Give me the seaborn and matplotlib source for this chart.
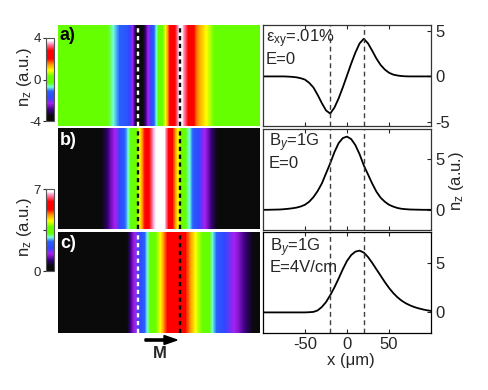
import numpy as np
import pandas as pd
import matplotlib
matplotlib.use('Agg')
import matplotlib.pyplot as plt
from matplotlib.colors import LinearSegmentedColormap
import seaborn as sns

sns.set_style('ticks')
plt.rcParams['font.family'] = ['Liberation Sans', 'DejaVu Sans']
plt.rcParams['mathtext.fontset'] = 'custom'
plt.rcParams['mathtext.rm'] = 'Liberation Sans'
plt.rcParams['mathtext.it'] = 'Liberation Sans:italic'
plt.rcParams['mathtext.default'] = 'rm'
plt.rcParams['axes.unicode_minus'] = False

# position across the sample, um
x_um = list(range(-100, 105, 5))

curve_a = [0, 0, 0, 0, 0, 0, -.02, -.05, -.1, -.2, -.35, -.7, -1.2, -2.0, -2.9, -3.7, -4.05,
           -3.4, -2.4, -1.2, .1, 1.4, 2.6, 3.6, 4.1, 3.6, 2.8, 1.95, 1.25, .75, .4, .2, .1,
           .04, .01, 0, 0, 0, 0, 0, 0]
curve_b = [0, 0, .01, .02, .03, .06, .1, .15, .22, .33, .5, .8, 1.25, 1.85, 2.6, 3.6, 4.6,
           5.7, 6.6, 7.1, 7.25, 7.0, 6.4, 5.5, 4.4, 3.5, 2.6, 1.8, 1.2, .8, .5, .32, .18,
           .1, .06, .03, .02, .01, 0, 0, 0]
curve_c = [0, 0, 0, 0, 0, 0, 0, 0, 0, 0, 0, .02, .05, .2, .55, 1.05, 1.75, 2.55, 3.45, 4.4,
           5.25, 5.85, 6.2, 6.3, 6.1, 5.65, 5.05, 4.4, 3.75, 3.1, 2.5, 1.98, 1.55, 1.2, .93,
           .72, .55, .42, .31, .22, .15]

# the colour maps read a little differently from the curves
map_a = [0, 0, 0, 0, 0, 0, 0, 0, 0, -.05, -.2, -.5, -.9, -1.2, -1.4, -2.1, -3.8, -3.5, -2.3,
         -1.2, -.2, .6, 2.0, 2.8, 4.0, 3.1, 2.4, 1.6, 1.2, .8, .4, .2, .05, 0, 0, 0, 0, 0,
         0, 0, 0]
map_b = [0, 0, 0, 0, 0, 0, 0, .03, .1, .3, .7, 1.2, 1.55, 2.15, 2.7, 3.4, 3.9, 4.9, 5.8,
         6.6, 7.0, 6.8, 5.7, 4.8, 3.9, 3.2, 2.7, 2.1, 1.7, 1.3, .8, .35, .1, .03, 0, 0,
         0, 0, 0, 0, 0]
map_c = [0, 0, 0, 0, 0, 0, 0, 0, 0, 0, 0, 0, 0, .08, .4, 1.2, 1.8, 2.3, 3.0, 3.6, 4.1, 4.9,
         5.5, 5.7, 5.6, 5.2, 4.7, 4.15, 3.8, 3.5, 2.85, 2.4, 2.05, 1.75, 1.5, 1.25, .95,
         .6, .35, .2, .1]

labels = ['a)', 'b)', 'c)']
notes = [['ε$_{xy}$=.01%', 'E=0'], ['B$_{\\mathit{y}}$=1G', 'E=0'], ['B$_{\\mathit{y}}$=1G', 'E=4V/cm']]
y_limits = [(-5.4, 5.6), (-2, 8), (-2.1, 8.2)]
y_ticks = [[-5, 0, 5], [0, 5], [0, 5]]
wall_x = [-20, 20]

W, H = 488, 390
BLACK = '#0a0a0a'
cmap = LinearSegmentedColormap.from_list('nz', [
    (0.0, BLACK), (0.06, BLACK), (0.13, '#35007a'), (0.21, '#a81ff0'), (0.28, '#3048ff'),
    (0.36, '#2a60ff'), (0.41, '#70ffe0'), (0.46, '#66ff00'), (0.54, '#66ff00'),
    (0.61, '#ffff00'), (0.68, '#ffa000'), (0.75, '#ff0000'), (0.85, '#ff0000'),
    (0.93, '#ff90c0'), (0.97, '#ffffff'), (1.0, '#ffffff')])


def box(l, t, r, b):
    return [l / W, 1 - b / H, (r - l) / W, (b - t) / H]


def put(x, y, s, **kw):
    kw.setdefault('ha', 'left')
    kw.setdefault('va', 'center')
    fig.text(x / W, 1 - y / H, s, **kw)


fig = plt.figure(figsize=(W / 100, H / 100), dpi=100)

map_boxes = [(58, 25, 260, 126), (58, 128, 260, 229), (58, 232, 260, 333)]
line_boxes = [(263, 25, 431, 126), (263, 129, 431, 230), (263, 232, 431, 333)]
map_values = [map_a, map_b, map_c]
curves = [curve_a, curve_b, curve_c]
ranges = [(-4, 4), (0, 7), (0, 7)]
left_wall = ['white', 'black', 'white']

images = []
for i in range(3):
    # colour map panel
    ax = fig.add_axes(box(*map_boxes[i]))
    vals = np.array([map_values[i], map_values[i]])
    im = ax.imshow(vals, cmap=cmap, vmin=ranges[i][0], vmax=ranges[i][1], aspect='auto',
                   extent=[-102.5, 102.5, 0, 1], interpolation='bilinear',
                   interpolation_stage='data')
    images.append(im)
    ax.set_xlim(-94, 94)
    ax.axis('off')
    ax.plot([wall_x[0]] * 2, [0, 1], color=left_wall[i], lw=1.7, ls=(0, (1.8, 1.5)))
    ax.plot([wall_x[1]] * 2, [0, 1], color='black', lw=1.7, ls=(0, (1.8, 1.5)))

    # line panel
    ax2 = fig.add_axes(box(*line_boxes[i]))
    df = pd.DataFrame({'x': x_um, 'nz': curves[i]})
    sns.lineplot(data=df, x='x', y='nz', color='black', lw=1.3, ax=ax2, errorbar=None)
    for wx in wall_x:
        ax2.axvline(wx, color='#404040', lw=1, ls=(0, (3.5, 2.5)))
    ax2.set_xlim(-100, 100)
    ax2.set_ylim(*y_limits[i])
    ax2.set_xticks([-50, 0, 50])
    ax2.set_yticks(y_ticks[i])
    ax2.set_xlabel('')
    ax2.set_ylabel('')
    ax2.yaxis.tick_right()
    ax2.tick_params(axis='x', direction='in', top=True, bottom=True, length=3, width=.8,
                    labelbottom=(i == 2), labelsize=12, pad=3)
    ax2.tick_params(axis='y', direction='in', left=False, right=True, length=3, width=.8,
                    labelsize=12, pad=3)
    for s in ax2.spines.values():
        s.set_visible(True)
        s.set_linewidth(.9)
        s.set_color('black' if i == 2 else '#333333')

    put(60, [36, 140, 244][i], labels[i], fontsize=13, fontweight='bold',
        color='black' if i == 0 else 'white')

put(266, 39, notes[0][0], fontsize=12)
put(266, 60, notes[0][1], fontsize=12)
put(269, 143, notes[1][0], fontsize=12)
put(269, 163, notes[1][1], fontsize=12)
put(270, 248, notes[2][0], fontsize=12)
put(270, 268, notes[2][1], fontsize=12)

# colour bars
for im, rect, ticks, tick_labels, label_y in [
        (images[0], (46, 38, 54, 121), [-4, 0, 4], ['-4', '0', '4'], 77),
        (images[1], (46, 189, 54, 271), [0, 3.5, 7], ['0', '', '7'], 227)]:
    cax = fig.add_axes(box(*rect))
    cb = fig.colorbar(im, cax=cax)
    cb.set_ticks(ticks, labels=tick_labels)
    cax.yaxis.set_ticks_position('left')
    cax.tick_params(length=2.5, width=.8, labelsize=9.5, pad=1)
    cb.outline.set_edgecolor('#555555')
    cb.outline.set_linewidth(.8)
    put(25, label_y, 'n$_{z}$ (a.u.)', fontsize=12, rotation=90, ha='center')

put(457, 181, 'n$_{z}$ (a.u.)', fontsize=12, rotation=90, ha='center')
put(351, 361, 'x (μm)', fontsize=12, ha='center')
put(160, 354, 'M', fontsize=12, fontweight='bold', ha='center')

fig.add_artist(matplotlib.patches.FancyArrow(145 / W, 1 - 340 / H, 32 / W, 0, width=2.2 / H,
               head_width=9 / H, head_length=13 / W, length_includes_head=True,
               color='black', transform=fig.transFigure))

fig.savefig('out.png', dpi=100)
